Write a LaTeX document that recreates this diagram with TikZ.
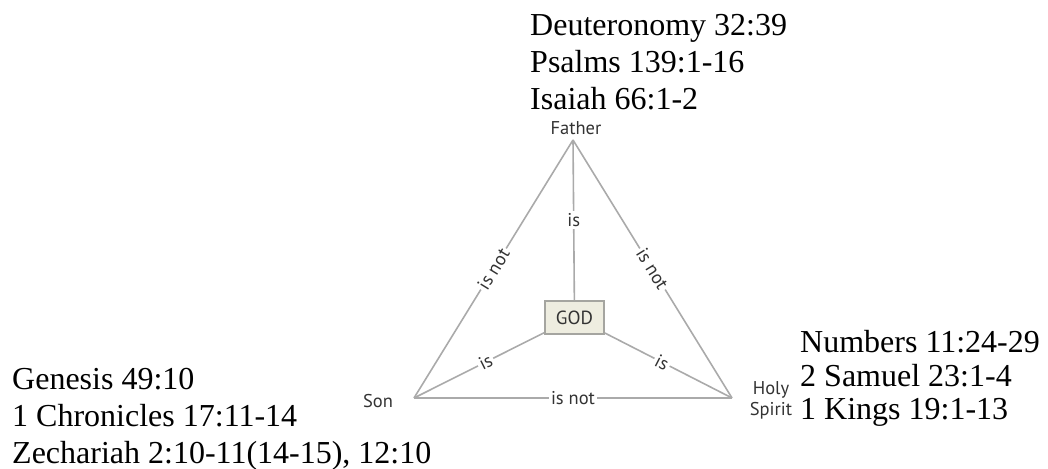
\documentclass[tikz,border=0pt]{standalone}
\usepackage{fontspec}
\setmainfont{Liberation Serif}
\newfontfamily\labfont{PT Sans}
\definecolor{linegray}{RGB}{170,170,170}
\definecolor{labtext}{RGB}{51,51,51}
\definecolor{godfill}{RGB}{238,237,224}
\definecolor{godedge}{RGB}{165,165,160}
\begin{document}
\begin{tikzpicture}[x=1pt,y=-1pt,
  edge/.style={draw=linegray, line width=1.6pt},
  lab/.style={font=\labfont\fontsize{18.5}{18.5}\selectfont, text=labtext, fill=white, inner sep=2pt},
  vlab/.style={font=\labfont\fontsize{18.5}{21}\selectfont, text=labtext, align=center, inner sep=1pt},
  godbox/.style={draw=godedge, fill=godfill, line width=1.6pt, minimum width=59pt, minimum height=33pt, font=\labfont\fontsize{19}{19}\selectfont, text=labtext, inner sep=0pt},
  ref/.style={font=\fontsize{32}{37}\selectfont, align=left, anchor=base west, inner sep=0pt}]
\useasboundingbox (0,0) rectangle (1048,468);
\coordinate (F) at (573,140);
\coordinate (S) at (414,398);
\coordinate (H) at (732,398);
\node[godbox] (god) at (574.5,317.5) {GOD};
\draw[edge] (S) -- node[lab, sloped] (l1) {is not} (F);
\draw[edge] (F) -- node[lab, sloped] (l2) {is not} (H);
\draw[edge] (S) -- node[lab] (l3) {is not} (H);
\draw[edge] (F) -- node[lab] (l4) {is} (god);
\draw[edge] (S) -- node[lab, sloped, pos=0.55] (l5) {is} (god);
\draw[edge] (god) -- node[lab, sloped, pos=0.45] (l6) {is} (H);
\node[vlab] (fa) at (576,128) {Father};
\node[vlab] (so) at (378,401) {Son};
\node[vlab] (hs) at (771,400) {Holy\\Spirit};
\node[ref] (r1) at (530,110) {Deuteronomy 32:39\\Psalms 139:1-16\\Isaiah 66:1-2};
\node[ref] (r2a) at (800,352) {Numbers 11:24-29};
\node[ref] (r2b) at (800,386) {2 Samuel 23:1-4};
\node[ref] (r2c) at (800,419) {1 Kings 19:1-13};
\node[ref] (r3) at (12,463) {Genesis 49:10\\1 Chronicles 17:11-14\\Zechariah 2:10-11(14-15), 12:10};
\end{tikzpicture}
\end{document}
